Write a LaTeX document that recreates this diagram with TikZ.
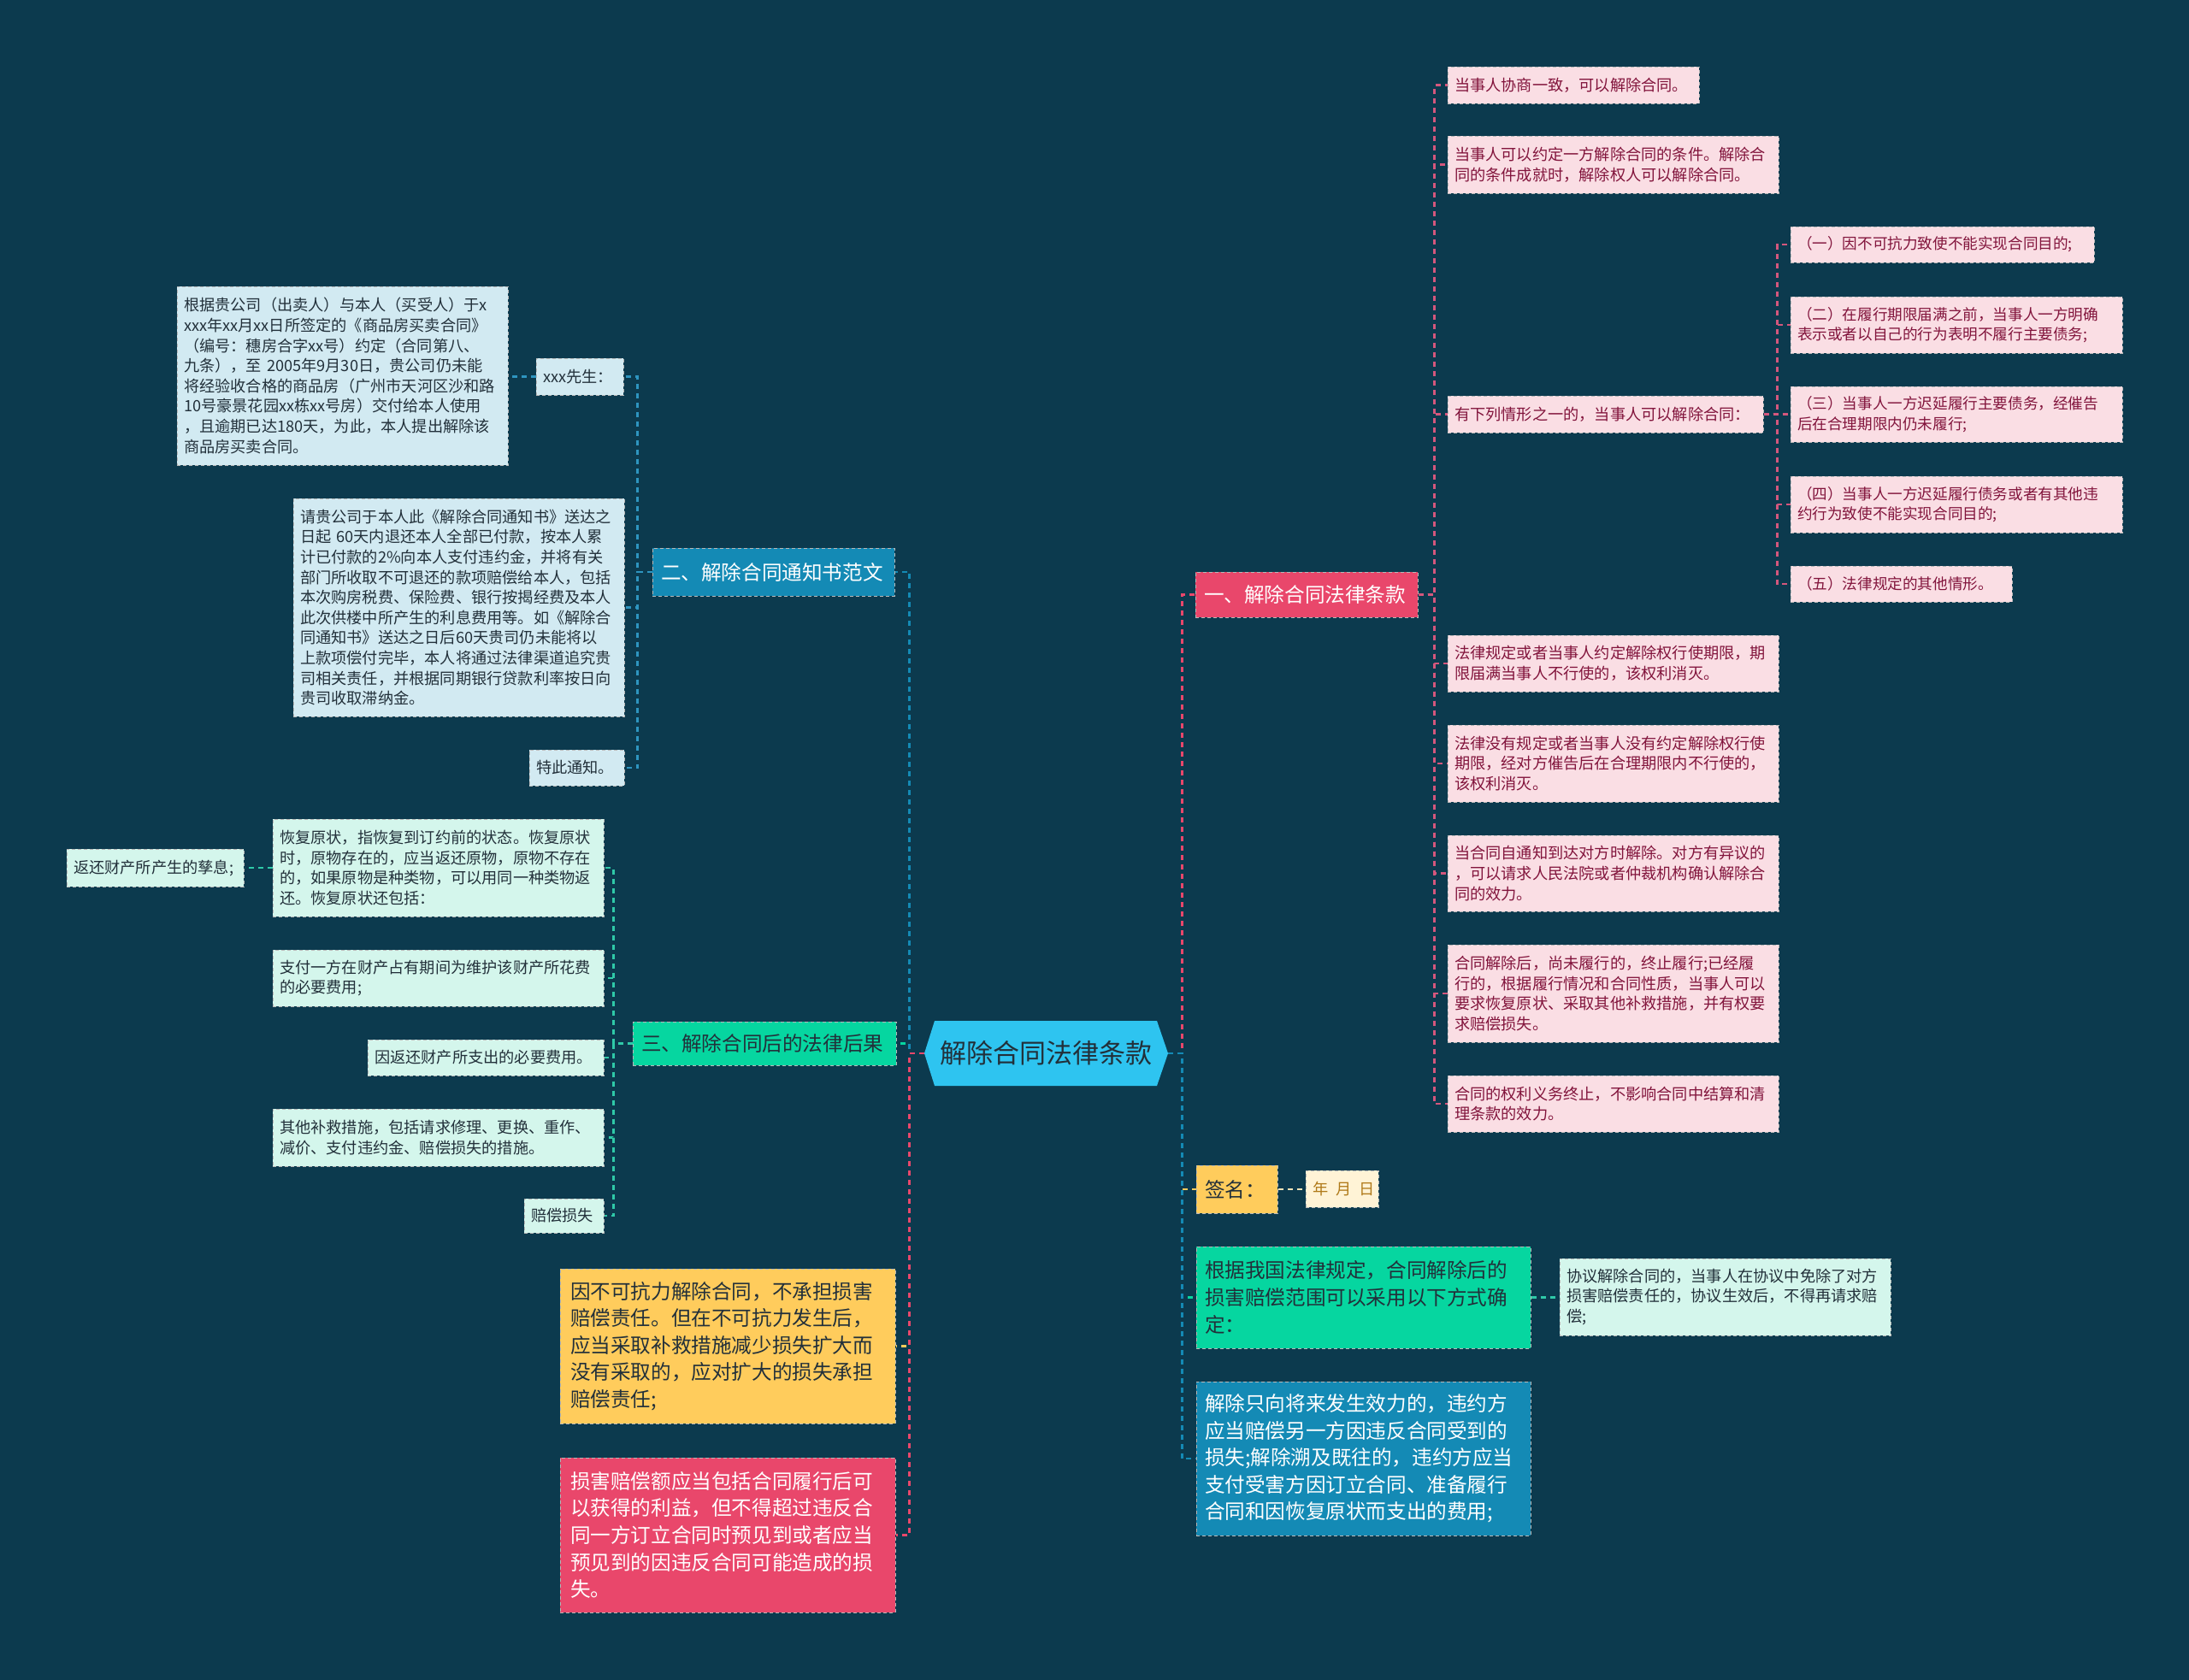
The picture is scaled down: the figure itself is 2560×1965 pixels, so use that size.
\documentclass[tikz,border=0pt]{standalone}
\usepackage{fontspec}
\setmainfont{Noto Sans CJK SC}
\usetikzlibrary{calc}
\definecolor{bgc}{HTML}{0C3A4E}
\definecolor{pinkM}{HTML}{E9476B}
\definecolor{pinkL}{HTML}{FADEE4}
\definecolor{pinkT}{HTML}{82143C}
\definecolor{blueM}{HTML}{148AB5}
\definecolor{blueL}{HTML}{D2EAF2}
\definecolor{greenM}{HTML}{06D6A0}
\definecolor{mintL}{HTML}{D4F6EC}
\definecolor{yellowM}{HTML}{FFCC5C}
\definecolor{creamL}{HTML}{FFF3D6}
\definecolor{goldT}{HTML}{B07A1A}
\definecolor{centerC}{HTML}{2EC4F0}
\definecolor{darkT}{HTML}{22303A}
\definecolor{cPl}{HTML}{D4577D}
\definecolor{cBl}{HTML}{2E95C0}
\definecolor{cGl}{HTML}{2FC9A8}
\definecolor{cYl}{HTML}{F3E3B8}
\newcommand\fsS{\fontsize{9.1}{11.8}\selectfont}
\newcommand\fsQ{\fontsize{8.8}{11.8}\selectfont}
\newcommand\fsM{\fontsize{11.8}{15.8}\selectfont}
\newcommand\fsL{\fontsize{15.5}{18}\selectfont}
\newcommand\MBox[8]{%
  \pgfmathsetmacro\mbW{(#5-#3)/2}%
  \pgfmathsetmacro\mbH{(#6-#4)/2}%
  \pgfmathsetmacro\mbX{(#3+#5)/2}%
  \pgfmathsetmacro\mbY{(#4+#6)/2}%
  \pgfmathsetmacro\mbT{(#5-#3)/2-2*#7}%
  \node[mbox, #1, inner xsep=#7pt, inner ysep=1pt, minimum width=\mbW pt, minimum height=\mbH pt, text width=\mbT pt] (#2) at (\mbX,\mbY) {#8};%
}
\tikzset{
  mbox/.style={rectangle, align=left, draw=black!28, dash pattern=on 2pt off 1.5pt, line width=0.5pt},
  leafP/.style={fill=pinkL, text=pinkT, font=\fsS},
  leafQ/.style={fill=pinkL, text=pinkT, font=\fsQ},
  leafB/.style={fill=blueL, text=darkT, font=\fsS},
  leafG/.style={fill=mintL, text=darkT, font=\fsS},
  leafY/.style={fill=creamL, text=goldT, font=\fsS},
  brP/.style={fill=pinkM, text=white, font=\fsM},
  brB/.style={fill=blueM, text=white, font=\fsM},
  brG/.style={fill=greenM, text=darkT, font=\fsM},
  brY/.style={fill=yellowM, text=darkT, font=\fsM},
  conn/.style={line width=1.2pt, dash pattern=on 3pt off 2.5pt},
}
\begin{document}
\begin{tikzpicture}[x=0.5pt, y=-0.5pt]
\useasboundingbox (0,0) rectangle (2560,1965);
\fill[bgc] (0,0) rectangle (2560,1965);

% central topic
\fill[centerC] (1081,1232) -- (1093,1194) -- (1353,1194) -- (1366,1232) -- (1353,1270) -- (1093,1270) -- cycle;
\node[font=\fsL, text=darkT, minimum width=142.5pt, minimum height=38pt, inner sep=0pt] (C) at (1223.5,1232) {解除合同法律条款};

% right branch 一
\MBox{brP}{R1}{1398}{669}{1658}{722}{5}{一、解除合同法律条款}
\MBox{leafP}{P1}{1693}{78}{1987}{121}{4}{当事人协商一致，可以解除合同。}
\MBox{leafP}{P2}{1693}{159}{2080}{226}{4}{当事人可以约定一方解除合同的条件。解除合\\同的条件成就时，解除权人可以解除合同。}
\MBox{leafP}{P3}{1693}{463}{2062}{506}{4}{有下列情形之一的，当事人可以解除合同：}
\MBox{leafQ}{Q1}{2094}{265}{2449}{307}{4}{（一）因不可抗力致使不能实现合同目的;}
\MBox{leafQ}{Q2}{2094}{347}{2482}{413}{4}{（二）在履行期限届满之前，当事人一方明确\\表示或者以自己的行为表明不履行主要债务;}
\MBox{leafQ}{Q3}{2094}{452}{2482}{517}{4}{（三）当事人一方迟延履行主要债务，经催告\\后在合理期限内仍未履行;}
\MBox{leafQ}{Q4}{2094}{557}{2482}{623}{4}{（四）当事人一方迟延履行债务或者有其他违\\约行为致使不能实现合同目的;}
\MBox{leafQ}{Q5}{2094}{662}{2353}{704}{4}{（五）法律规定的其他情形。}
\MBox{leafP}{P4}{1693}{743}{2080}{809}{4}{法律规定或者当事人约定解除权行使期限，期\\限届满当事人不行使的，该权利消灭。}
\MBox{leafP}{P5}{1693}{848}{2080}{938}{4}{法律没有规定或者当事人没有约定解除权行使\\期限，经对方催告后在合理期限内不行使的，\\该权利消灭。}
\MBox{leafP}{P6}{1693}{977}{2080}{1066}{4}{当合同自通知到达对方时解除。对方有异议的\\，可以请求人民法院或者仲裁机构确认解除合\\同的效力。}
\MBox{leafP}{P7}{1693}{1105}{2080}{1219}{4}{合同解除后，尚未履行的，终止履行;已经履\\行的，根据履行情况和合同性质，当事人可以\\要求恢复原状、采取其他补救措施，并有权要\\求赔偿损失。}
\MBox{leafP}{P8}{1693}{1258}{2080}{1324}{4}{合同的权利义务终止，不影响合同中结算和清\\理条款的效力。}

% right branches below
\MBox{brY}{R2}{1399}{1363}{1494}{1419}{5}{签名：}
\MBox{leafY}{Y1}{1527}{1369}{1612}{1412}{4}{年\,~月\,~日}
\MBox{brG}{R3}{1399}{1458}{1790}{1577}{5}{根据我国法律规定，合同解除后的\\损害赔偿范围可以采用以下方式确\\定：}
\MBox{leafG}{G1}{1824}{1472}{2211}{1562}{4}{协议解除合同的，当事人在协议中免除了对方\\损害赔偿责任的，协议生效后，不得再请求赔\\偿;}
\MBox{brB}{R4}{1399}{1616}{1790}{1796}{5}{解除只向将来发生效力的，违约方\\应当赔偿另一方因违反合同受到的\\损失;解除溯及既往的，违约方应当\\支付受害方因订立合同、准备履行\\合同和因恢复原状而支出的费用;}

% left branch 二
\MBox{brB}{L1}{763}{641}{1046}{697}{5}{二、解除合同通知书范文}
\MBox{leafB}{B1}{627}{419}{729}{462}{4}{xxx先生：}
\MBox{leafB}{B0}{207}{335}{594}{544}{4}{根据贵公司（出卖人）与本人（买受人）于x\\xxx年xx月xx日所签定的《商品房买卖合同》\\（编号：穗房合字xx号）约定（合同第八、\\九条），至~2005年9月30日，贵公司仍未能\\将经验收合格的商品房（广州市天河区沙和路\\10号豪景花园xx栋xx号房）交付给本人使用\\，且逾期已达180天，为此，本人提出解除该\\商品房买卖合同。}
\MBox{leafB}{B2}{343}{583}{730}{838}{4}{请贵公司于本人此《解除合同通知书》送达之\\日起~60天内退还本人全部已付款，按本人累\\计已付款的2\%向本人支付违约金，并将有关\\部门所收取不可退还的款项赔偿给本人，包括\\本次购房税费、保险费、银行按揭经费及本人\\此次供楼中所产生的利息费用等。如《解除合\\同通知书》送达之日后60天贵司仍未能将以\\上款项偿付完毕，本人将通过法律渠道追究贵\\司相关责任，并根据同期银行贷款利率按日向\\贵司收取滞纳金。}
\MBox{leafB}{B3}{619}{877}{730}{919}{4}{特此通知。}

% left branch 三
\MBox{brG}{L2}{740}{1195}{1048}{1246}{5}{三、解除合同后的法律后果}
\MBox{leafG}{M1}{319}{958}{706}{1072}{4}{恢复原状，指恢复到订约前的状态。恢复原状\\时，原物存在的，应当返还原物，原物不存在\\的，如果原物是种类物，可以用同一种类物返\\还。恢复原状还包括：}
\MBox{leafG}{M0}{78}{993}{285}{1037}{4}{返还财产所产生的孳息;}
\MBox{leafG}{M2}{319}{1111}{706}{1177}{4}{支付一方在财产占有期间为维护该财产所花费\\的必要费用;}
\MBox{leafG}{M3}{430}{1216}{706}{1258}{4}{因返还财产所支出的必要费用。}
\MBox{leafG}{M4}{319}{1297}{706}{1364}{4}{其他补救措施，包括请求修理、更换、重作、\\减价、支付违约金、赔偿损失的措施。}
\MBox{leafG}{M5}{613}{1402}{706}{1442}{4}{赔偿损失}

% left branches below
\MBox{brY}{L3}{655}{1484}{1047}{1665}{6}{因不可抗力解除合同，不承担损害\\赔偿责任。但在不可抗力发生后，\\应当采取补救措施减少损失扩大而\\没有采取的，应对扩大的损失承担\\赔偿责任;}
\MBox{brP}{L4}{655}{1705}{1047}{1886}{6}{损害赔偿额应当包括合同履行后可\\以获得的利益，但不得超过违反合\\同一方订立合同时预见到或者应当\\预见到的因违反合同可能造成的损\\失。}

% connectors from the central topic
\draw[conn, pinkM] (C.east) -- ++(16,0) |- (R1.west);
\draw[conn, yellowM] (C.east) -- ++(16,0) |- (R2.west);
\draw[conn, greenM] (C.east) -- ++(16,0) |- (R3.west);
\draw[conn, blueM] (C.east) -- ++(16,0) |- (R4.west);
\draw[conn, greenM] (C.west) -- ++(-17,0) |- (L2.east);
\draw[conn, yellowM] (C.west) -- ++(-17,0) |- (L3.east);
\draw[conn, blueM] (C.west) -- ++(-17,0) |- (L1.east);
\draw[conn, pinkM] (C.west) -- ++(-17,0) |- (L4.east);

% sub connectors
\foreach \n in {P1,P2,P3,P4,P5,P6,P7,P8}
  \draw[conn, cPl] (R1.east) -- ++(19,0) |- (\n.west);
\foreach \n in {Q1,Q2,Q3,Q4,Q5}
  \draw[conn, cPl] (P3.east) -- ++(16,0) |- (\n.west);
\foreach \n in {B1,B2,B3}
  \draw[conn, cBl] (L1.west) -- ++(-17,0) |- (\n.east);
\foreach \n in {M1,M2,M3,M4,M5}
  \draw[conn, cGl] (L2.west) -- ++(-22,0) |- (\n.east);
\draw[conn, cBl] (B1.west) -- (B1.west -| B0.east);
\draw[conn, cGl] (M1.west) -- (M1.west -| M0.east);
\draw[conn, cYl] (R2.east) -- (R2.east -| Y1.west);
\draw[conn, cGl] (R3.east) -- (R3.east -| G1.west);
\end{tikzpicture}
\end{document}
